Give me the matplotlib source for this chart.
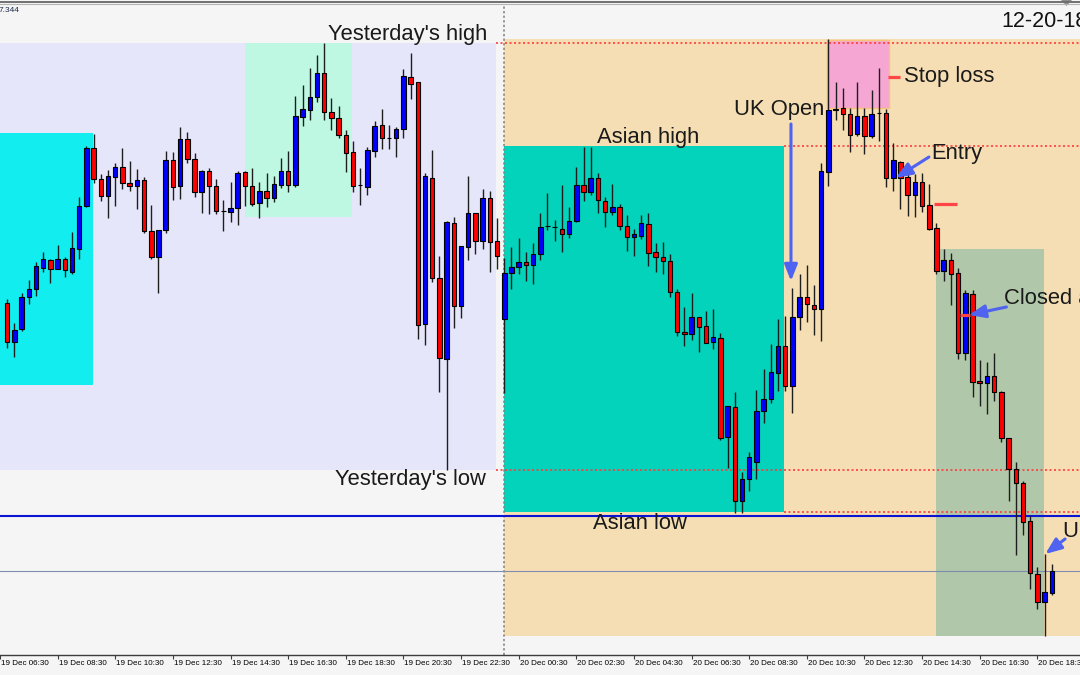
"""
EURJPY M15, 19 Dec 06:45 -> 20 Dec 19:00 (2018) — Asian-range breakout trade,
MT4-style chart with session boxes, key levels and trade annotations.
"""
import matplotlib
matplotlib.use("Agg")
import matplotlib.pyplot as plt
import matplotlib.transforms as mtransforms
from matplotlib.lines import Line2D
from matplotlib.patches import Rectangle, Polygon

plt.rcParams['font.family'] = ['Liberation Sans', 'DejaVu Sans']

# ── candles (one per 15 min) ─────────────────────────────────────────────
opens = [
    127.612, 127.573, 127.586, 127.618, 127.626, 127.647, 127.655, 127.646, 127.656, 127.643,
    127.666, 127.709, 127.767, 127.736, 127.719, 127.738, 127.748, 127.732, 127.729, 127.735,
    127.684, 127.658, 127.685, 127.755, 127.729, 127.776, 127.756, 127.723, 127.744, 127.729,
    127.704, 127.703, 127.707, 127.743, 127.729, 127.712, 127.724, 127.717, 127.730, 127.744,
    127.730, 127.798, 127.805, 127.818, 127.842, 127.803, 127.797, 127.780, 127.763, 127.730,
    127.728, 127.764, 127.790, 127.777, 127.777, 127.786, 127.838, 127.833, 127.591, 127.737,
    127.637, 127.556, 127.692, 127.609, 127.668, 127.702, 127.674, 127.717, 127.674, 127.596,
    127.642, 127.648, 127.653, 127.650, 127.661, 127.689, 127.688, 127.686, 127.681, 127.694,
    127.730, 127.723, 127.737, 127.714, 127.703, 127.708, 127.689, 127.678, 127.679, 127.691,
    127.663, 127.658, 127.654, 127.623, 127.583, 127.581, 127.598, 127.589, 127.573, 127.577,
    127.478, 127.508, 127.414, 127.436, 127.453, 127.504, 127.516, 127.542, 127.569, 127.529,
    127.598, 127.618, 127.610, 127.606, 127.743, 127.805, 127.807, 127.801, 127.781, 127.799,
    127.779, 127.802, 127.802, 127.737, 127.753, 127.738, 127.720, 127.733, 127.710, 127.687,
    127.644, 127.655, 127.642, 127.562, 127.621, 127.534, 127.532, 127.539, 127.523, 127.477,
    127.446, 127.432, 127.394, 127.341, 127.313, 127.322,
]
highs = [
    127.616, 127.592, 127.622, 127.635, 127.653, 127.663, 127.656, 127.670, 127.658, 127.683,
    127.718, 127.769, 127.781, 127.741, 127.745, 127.752, 127.767, 127.754, 127.746, 127.738,
    127.710, 127.685, 127.764, 127.763, 127.788, 127.783, 127.762, 127.745, 127.747, 127.736,
    127.715, 127.733, 127.744, 127.744, 127.747, 127.733, 127.742, 127.739, 127.757, 127.764,
    127.819, 127.830, 127.847, 127.860, 127.872, 127.817, 127.809, 127.785, 127.774, 127.747,
    127.768, 127.794, 127.806, 127.790, 127.788, 127.846, 127.862, 127.833, 127.742, 127.765,
    127.659, 127.694, 127.698, 127.669, 127.739, 127.702, 127.726, 127.724, 127.697, 127.657,
    127.668, 127.677, 127.663, 127.672, 127.702, 127.722, 127.695, 127.730, 127.708, 127.748,
    127.768, 127.768, 127.742, 127.718, 127.731, 127.711, 127.700, 127.686, 127.700, 127.702,
    127.672, 127.673, 127.661, 127.626, 127.608, 127.622, 127.598, 127.604, 127.606, 127.582,
    127.509, 127.523, 127.443, 127.463, 127.525, 127.546, 127.571, 127.596, 127.599, 127.627,
    127.641, 127.650, 127.630, 127.752, 127.876, 127.833, 127.827, 127.807, 127.833, 127.807,
    127.825, 127.847, 127.806, 127.772, 127.754, 127.741, 127.741, 127.742, 127.731, 127.692,
    127.666, 127.662, 127.647, 127.625, 127.625, 127.555, 127.553, 127.562, 127.524, 127.477,
    127.453, 127.434, 127.399, 127.348, 127.361, 127.351,
]
lows = [
    127.567, 127.558, 127.584, 127.611, 127.619, 127.643, 127.632, 127.646, 127.638, 127.641,
    127.656, 127.708, 127.732, 127.714, 127.697, 127.709, 127.726, 127.724, 127.706, 127.682,
    127.656, 127.622, 127.682, 127.715, 127.716, 127.752, 127.718, 127.702, 127.701, 127.701,
    127.684, 127.693, 127.690, 127.709, 127.709, 127.697, 127.708, 127.713, 127.727, 127.723,
    127.728, 127.789, 127.795, 127.813, 127.795, 127.785, 127.777, 127.743, 127.723, 127.710,
    127.720, 127.758, 127.766, 127.766, 127.758, 127.777, 127.816, 127.576, 127.570, 127.633,
    127.523, 127.445, 127.587, 127.597, 127.655, 127.661, 127.666, 127.643, 127.646, 127.522,
    127.626, 127.641, 127.634, 127.631, 127.655, 127.685, 127.674, 127.663, 127.677, 127.693,
    127.714, 127.720, 127.702, 127.688, 127.700, 127.685, 127.664, 127.659, 127.676, 127.649,
    127.643, 127.641, 127.618, 127.579, 127.569, 127.575, 127.563, 127.572, 127.566, 127.475,
    127.447, 127.402, 127.402, 127.424, 127.436, 127.492, 127.512, 127.524, 127.524, 127.502,
    127.585, 127.593, 127.580, 127.574, 127.729, 127.795, 127.785, 127.763, 127.779, 127.761,
    127.777, 127.774, 127.728, 127.724, 127.706, 127.699, 127.698, 127.703, 127.685, 127.641,
    127.634, 127.610, 127.556, 127.555, 127.518, 127.509, 127.501, 127.514, 127.473, 127.414,
    127.360, 127.380, 127.326, 127.306, 127.279, 127.320,
]
closes = [
    127.573, 127.585, 127.618, 127.626, 127.649, 127.656, 127.646, 127.656, 127.645, 127.667,
    127.709, 127.767, 127.736, 127.719, 127.739, 127.748, 127.732, 127.729, 127.735, 127.684,
    127.658, 127.685, 127.755, 127.728, 127.776, 127.756, 127.723, 127.744, 127.729, 127.704,
    127.704, 127.707, 127.742, 127.729, 127.711, 127.724, 127.717, 127.731, 127.744, 127.730,
    127.799, 127.806, 127.818, 127.842, 127.803, 127.797, 127.780, 127.762, 127.729, 127.730,
    127.765, 127.789, 127.777, 127.777, 127.786, 127.839, 127.831, 127.590, 127.739, 127.637,
    127.557, 127.693, 127.609, 127.669, 127.702, 127.674, 127.717, 127.673, 127.659, 127.642,
    127.648, 127.653, 127.650, 127.661, 127.688, 127.689, 127.688, 127.681, 127.694, 127.730,
    127.723, 127.737, 127.715, 127.703, 127.708, 127.689, 127.678, 127.681, 127.692, 127.662,
    127.658, 127.654, 127.623, 127.583, 127.581, 127.598, 127.588, 127.572, 127.578, 127.477,
    127.509, 127.414, 127.436, 127.458, 127.504, 127.516, 127.543, 127.569, 127.529, 127.598,
    127.618, 127.611, 127.606, 127.744, 127.805, 127.806, 127.801, 127.780, 127.799, 127.779,
    127.801, 127.802, 127.737, 127.755, 127.737, 127.720, 127.733, 127.709, 127.686, 127.644,
    127.655, 127.641, 127.562, 127.622, 127.533, 127.532, 127.539, 127.523, 127.477, 127.446,
    127.432, 127.393, 127.342, 127.313, 127.323, 127.344,
]

# time axis: bar index of each label (bar 0 = 19 Dec 06:45)
tick_bars = [-1, 7, 15, 23, 31, 39, 47, 55, 63, 71, 79, 87, 95, 103, 111, 119, 127, 135, 143]
tick_labels = ["19 Dec 06:30", "19 Dec 08:30", "19 Dec 10:30", "19 Dec 12:30", "19 Dec 14:30",
               "19 Dec 16:30", "19 Dec 18:30", "19 Dec 20:30", "19 Dec 22:30",
               "20 Dec 00:30", "20 Dec 02:30", "20 Dec 04:30", "20 Dec 06:30", "20 Dec 08:30",
               "20 Dec 10:30", "20 Dec 12:30", "20 Dec 14:30", "20 Dec 16:30", "20 Dec 18:30"]
day_break = 68.9            # 20 Dec 00:00

# key levels
yest_high, yest_low = 127.872, 127.445
asia_high, asia_low = 127.769, 127.403
blue_level = 127.399
bid = 127.344

# boxes: bar from, bar to, price low, price high
box_names = ["yesterday", "early", "afternoon", "today", "asia", "stop", "target"]
box_x0 = [-1.0, -1.0, 32.98, 68.9, 68.9, 113.8, 128.9]
box_x1 = [67.9, 11.97, 47.91, 150.0, 107.9, 122.4, 143.9]
box_lo = [127.445, 127.530, 127.698, 127.279, 127.403, 127.807, 127.279]
box_hi = [127.872, 127.782, 127.872, 127.876, 127.769, 127.875, 127.666]
box_colors = ["#E6E6FA", "#12EEF0", "#BEF8E2", "#F5DEB3", "#02D3BA", "#F6A6D3", "#B0C7A9"]

# arrows (tail -> head) in bar / price
arrow_tail = [(108.8, 127.791), (127.95, 127.758), (138.7, 127.608), (146.85, 127.376)]
arrow_head = [(108.8, 127.634), (123.35, 127.737), (133.5, 127.600), (144.1, 127.361)]

# short red marks: bar from, bar to, price
mark_x0 = [122.2, 128.6, 132.2]
mark_x1 = [124.0, 131.8, 133.7]
mark_y = [127.838, 127.711, 127.600]

# labels: text, bar, price
notes = [("Yesterday's high", 44.55, 127.881), ("Yesterday's low", 45.5, 127.436),
         ("Asian high", 81.9, 127.778), ("Asian low", 81.3, 127.392),
         ("UK Open", 100.95, 127.806), ("Stop loss", 124.45, 127.839),
         ("Entry", 128.3, 127.762), ("Closed at", 138.4, 127.617), ("US Open", 146.6, 127.384)]

BULL, BEAR = "#0000FF", "#FF0000"
ARROW = "#4F63F0"
BG = "#F5F5F5"

fig = plt.figure(figsize=(10.8, 6.75), dpi=100, facecolor=BG)
ax = fig.add_axes([0, 20.5 / 675, 1, 650.5 / 675], facecolor=BG)
ax.set_xlim(-0.373, 148.92)
ax.set_ylim(127.2605, 127.911)

# ── background objects ───────────────────────────────────────────────────
for x0, x1, lo, hi, c, name in zip(box_x0, box_x1, box_lo, box_hi, box_colors, box_names):
    ec = "#F7C27A" if name == "stop" else "none"
    ax.add_patch(Rectangle((x0, lo), x1 - x0, hi - lo, facecolor=c, edgecolor=ec,
                           lw=1, zorder=1))

ax.axvline(day_break, color="#808080", lw=1.1, ls=(0, (1.5, 1.5)), zorder=2)
red_dots = dict(color="#FF3B3B", lw=1.2, ls=(0, (1.2, 1.5)), zorder=2)
ax.hlines([yest_high, yest_low], 67.8, 150, **red_dots)
ax.hlines([asia_high, asia_low], 107.9, 150, **red_dots)
ax.axhline(blue_level, color="#0A14D2", lw=1.5, zorder=2)
ax.axhline(bid, color="#7F8DAE", lw=0.8, zorder=2)

# ── candles ──────────────────────────────────────────────────────────────
w = 0.62
for i, (o, h, l, c) in enumerate(zip(opens, highs, lows, closes)):
    ax.vlines(i, l, h, color="#1E1E1E", lw=1.0, zorder=3)
    ax.add_patch(Rectangle((i - w / 2, min(o, c)), w, abs(c - o),
                           facecolor=BULL if c >= o else BEAR, edgecolor="black",
                           lw=0.8, zorder=4))

# ── trade annotations ────────────────────────────────────────────────────
for (tx, ty), (hx, hy) in zip(arrow_tail, arrow_head):
    ax.annotate("", xy=(hx, hy), xytext=(tx, ty), zorder=5,
                arrowprops=dict(arrowstyle="-|>,head_length=0.7,head_width=0.28",
                                mutation_scale=14, color=ARROW, lw=2.2,
                                shrinkA=0, shrinkB=0))
for x0, x1, y in zip(mark_x0, mark_x1, mark_y):
    ax.plot([x0, x1], [y, y], color="#FF4545", lw=2.3, solid_capstyle="butt", zorder=5)

for txt, x, y in notes:
    ax.text(x, y, txt, fontsize=15.8, color="#1A1A1A", ha="left", va="center", zorder=6)

# ── axes cosmetics (MT4 look) ────────────────────────────────────────────
for s in ("top", "left", "right"):
    ax.spines[s].set_visible(False)
ax.spines["bottom"].set_color("#3C3C3C")
ax.spines["bottom"].set_linewidth(1.0)
ax.set_yticks([])
ax.set_xticks(tick_bars)
ax.set_xticklabels(tick_labels, fontsize=5.8, ha="left")
ax.tick_params(axis="x", direction="out", length=3, width=0.8, color="#3C3C3C", pad=1)
shift = mtransforms.ScaledTranslation(1 / 100, 0, fig.dpi_scale_trans)
for lbl in ax.get_xticklabels():
    lbl.set_transform(lbl.get_transform() + shift)

# window frame, header remnant, date, chart-shift marker
fig.add_artist(Line2D([0, 1], [1 - 1.5 / 675] * 2, color="#707070", lw=1.4))
fig.add_artist(Line2D([0, 1], [1 - 3.5 / 675] * 2, color="#B4B4B4", lw=0.8))
fig.text(-1 / 1080, 1 - 11 / 675, "7.344", fontsize=6, color="#1C2A4A", va="center")
fig.text(1001.7 / 1080, 1 - 21.7 / 675, "12-20-18", fontsize=15.5, color="#111111",
         va="center")
fig.add_artist(Polygon([(1061 / 1080, 1), (1072 / 1080, 1), (1066.5 / 1080, 1 - 6 / 675)],
                       closed=True, facecolor="#8A8A8A", edgecolor="none",
                       transform=fig.transFigure))

fig.savefig("out.png", dpi=100, facecolor=BG)
